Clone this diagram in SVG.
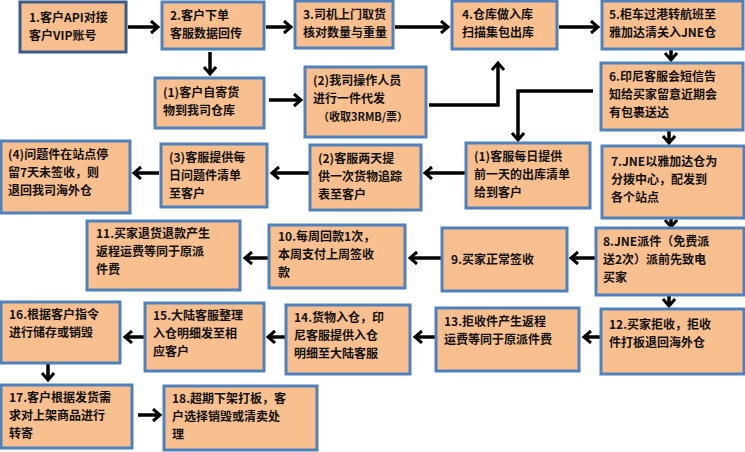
<svg xmlns="http://www.w3.org/2000/svg" width="745" height="452" viewBox="0 0 745 452">
<style>
.b{fill:#F9BF8F;stroke:#4F81BD;stroke-width:3}
.d{stroke:#385D8A}
text{font-family:"Noto Sans CJK SC","Noto Sans",sans-serif;font-size:12px;font-weight:bold;fill:#111}
.c line,.c polyline{stroke:#000;stroke-width:3.5;fill:none;marker-end:url(#a)}
</style>
<defs><marker id="a" markerUnits="userSpaceOnUse" markerWidth="14" markerHeight="16" refX="9" refY="7" orient="auto"><path d="M2,1 L9,7 L2,13" fill="none" stroke="#000" stroke-width="3"/></marker></defs>
<rect width="745" height="452" fill="#fff"/>
<g class="c">
<line x1="128" y1="27" x2="158" y2="27"/>
<line x1="266" y1="27" x2="291" y2="27"/>
<line x1="395" y1="27" x2="448" y2="27"/>
<line x1="559" y1="27" x2="598" y2="27"/>
<line x1="210" y1="52" x2="210" y2="74"/>
<line x1="269" y1="100" x2="301" y2="100"/>
<polyline points="429,105 498,105 498,63"/>
<line x1="671" y1="50" x2="671" y2="60"/>
<polyline points="593,91 518,91 518,140"/>
<line x1="669" y1="131" x2="669" y2="143"/>
<line x1="466" y1="173" x2="425" y2="173"/>
<line x1="309" y1="173" x2="272" y2="173"/>
<line x1="159" y1="173" x2="134" y2="173"/>
<line x1="671" y1="219" x2="671" y2="227"/>
<line x1="595" y1="258" x2="571" y2="258"/>
<line x1="441" y1="258" x2="410" y2="258"/>
<line x1="268" y1="258" x2="245" y2="258"/>
<line x1="669" y1="296" x2="669" y2="306"/>
<line x1="600" y1="337" x2="584" y2="337"/>
<line x1="435" y1="337" x2="415" y2="337"/>
<line x1="285" y1="337" x2="268" y2="337"/>
<line x1="144" y1="337" x2="125" y2="337"/>
<line x1="48" y1="364" x2="48" y2="380"/>
<line x1="138" y1="415" x2="160" y2="415"/>
</g>
<g id="n1"><rect class="b d" x="20" y="2" width="106" height="50"/><text x="29" y="22">1.客户API对接</text><text x="29" y="40">客户VIP账号</text></g>
<g id="n2"><rect class="b" x="162" y="2" width="102" height="47"/><text x="170" y="20">2.客户下单</text><text x="170" y="38">客服数据回传</text></g>
<g id="n3"><rect class="b" x="295" y="1" width="98" height="47"/><text x="303" y="19">3.司机上门取货</text><text x="303" y="37">核对数量与重量</text></g>
<g id="n4"><rect class="b" x="452" y="1" width="105" height="48"/><text x="462" y="19">4.仓库做入库</text><text x="462" y="37">扫描集包出库</text></g>
<g id="n5"><rect class="b" x="602" y="1" width="141" height="48"/><text x="609" y="19">5.柜车过港转航班至</text><text x="609" y="37">雅加达清关入JNE仓</text></g>
<g id="na1"><rect class="b" x="155" y="78" width="109" height="50"/><text x="163" y="97">(1)客户自寄货</text><text x="163" y="115">物到我司仓库</text></g>
<g id="na2"><rect class="b" x="305" y="67" width="121" height="70"/><text x="313" y="85">(2)我司操作人员</text><text x="313" y="103">进行一件代发</text><text x="318" y="121" style="font-size:11px">（收取3RMB/票）</text></g>
<g id="n6"><rect class="b" x="601" y="63" width="142" height="67"/><text x="609" y="81">6.印尼客服会短信告</text><text x="609" y="99">知给买家留意近期会</text><text x="609" y="117">有包裹送达</text></g>
<g id="nb1"><rect class="b" x="466" y="143" width="124" height="65"/><text x="474" y="161">(1)客服每日提供</text><text x="474" y="179">前一天的出库清单</text><text x="474" y="197">给到客户</text></g>
<g id="nb2"><rect class="b" x="310" y="145" width="111" height="65"/><text x="318" y="163">(2)客服两天提</text><text x="318" y="181">供一次货物追踪</text><text x="318" y="199">表至客户</text></g>
<g id="nb3"><rect class="b" x="161" y="144" width="106" height="63"/><text x="169" y="162">(3)客服提供每</text><text x="169" y="180">日问题件清单</text><text x="169" y="198">至客户</text></g>
<g id="nb4"><rect class="b" x="1" y="141" width="129" height="72"/><text x="8" y="159">(4)问题件在站点停</text><text x="8" y="177">留7天未签收，则</text><text x="8" y="195">退回我司海外仓</text></g>
<g id="n7"><rect class="b" x="602" y="146" width="142" height="72"/><text x="611" y="166">7.JNE以雅加达仓为</text><text x="611" y="184">分拨中心，配发到</text><text x="611" y="202">各个站点</text></g>
<g id="n8"><rect class="b" x="596" y="228" width="148" height="67"/><text x="603" y="246">8.JNE派件（免费派</text><text x="603" y="264">送2次）派前先致电</text><text x="603" y="282">买家</text></g>
<g id="n9"><rect class="b" x="442" y="228" width="125" height="63"/><text x="451" y="264">9.买家正常签收</text></g>
<g id="n10"><rect class="b" x="269" y="225" width="136" height="63"/><text x="278" y="241">10.每周回款1次，</text><text x="278" y="259">本周支付上周签收</text><text x="278" y="277">款</text></g>
<g id="n11"><rect class="b" x="87" y="221" width="153" height="69"/><text x="96" y="238">11.买家退货退款产生</text><text x="96" y="256">返程运费等同于原派</text><text x="96" y="274">件费</text></g>
<g id="n12"><rect class="b" x="601" y="309" width="143" height="65"/><text x="609" y="329">12.买家拒收，拒收</text><text x="609" y="347">件打板退回海外仓</text></g>
<g id="n13"><rect class="b" x="436" y="308" width="143" height="63"/><text x="444" y="326">13.拒收件产生返程</text><text x="444" y="344">运费等同于原派件费</text></g>
<g id="n14"><rect class="b" x="286" y="305" width="124" height="69"/><text x="294" y="322">14.货物入仓，印</text><text x="294" y="340">尼客服提供入仓</text><text x="294" y="358">明细至大陆客服</text></g>
<g id="n15"><rect class="b" x="145" y="303" width="119" height="68"/><text x="153" y="320">15.大陆客服整理</text><text x="153" y="338">入仓明细发至相</text><text x="153" y="356">应客户</text></g>
<g id="n16"><rect class="b" x="1" y="302" width="119" height="61"/><text x="9" y="319">16.根据客户指令</text><text x="9" y="337">进行储存或销毁</text></g>
<g id="n17"><rect class="b" x="1" y="385" width="131" height="63"/><text x="9" y="402">17.客户根据发货需</text><text x="9" y="420">求对上架商品进行</text><text x="9" y="438">转寄</text></g>
<g id="n18"><rect class="b" x="164" y="386" width="153" height="64"/><text x="172" y="403">18.超期下架打板，客</text><text x="172" y="421">户选择销毁或清卖处</text><text x="172" y="439">理</text></g>
</svg>
